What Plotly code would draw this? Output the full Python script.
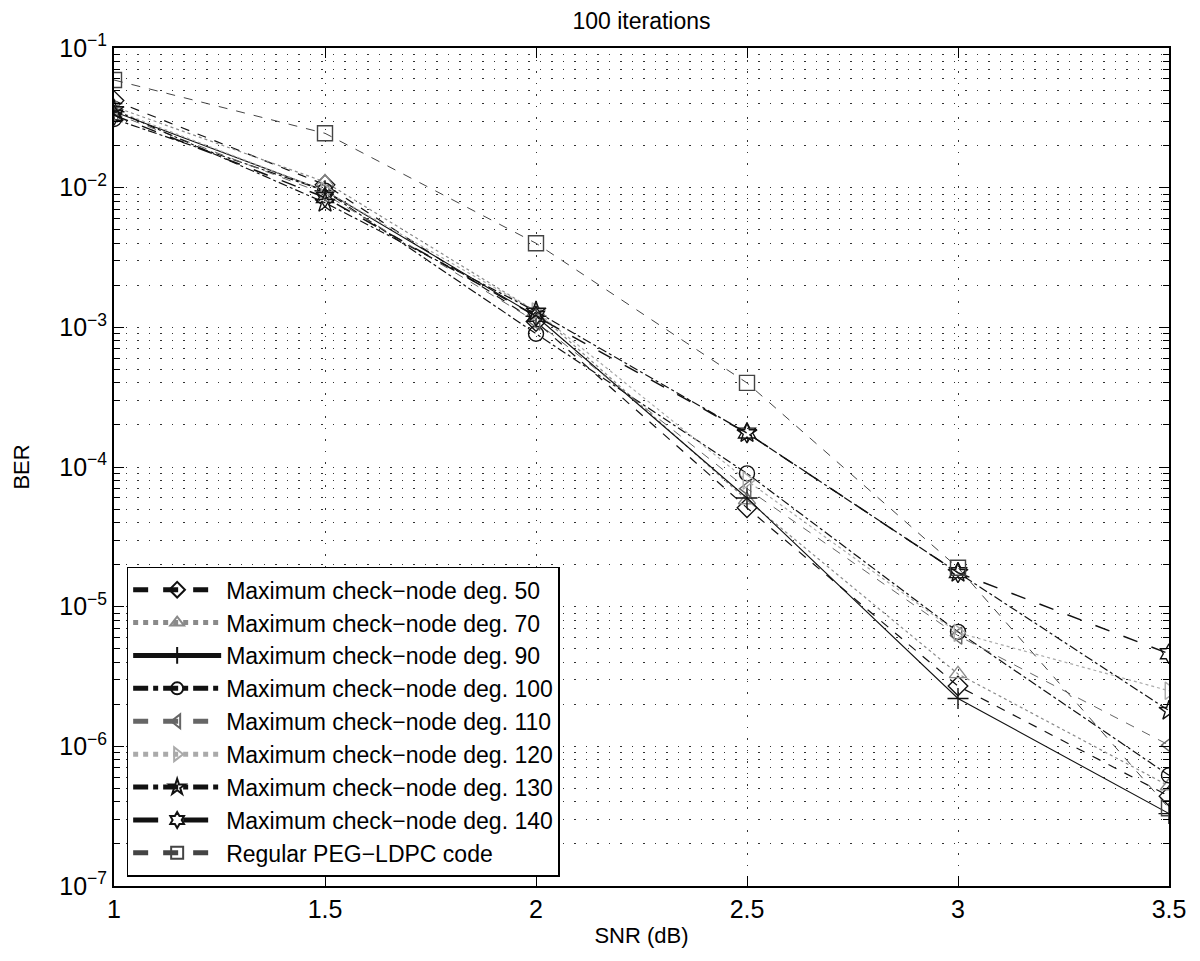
import plotly.graph_objects as go

snr = [1, 1.5, 2, 2.5, 3, 3.5]
deg50 = [0.042, 0.0105, 0.0011, 5.1e-5, 2.7e-6, 4.4e-7]
deg70 = [0.038, 0.011, 0.0013, 5.8e-5, 3.3e-6, 5.2e-7]
deg90 = [0.035, 0.0095, 0.0012, 6.0e-5, 2.2e-6, 3.3e-7]
deg100 = [0.031, 0.0095, 0.0009, 9.0e-5, 6.6e-6, 6.2e-7]
deg110 = [0.034, 0.009, 0.0011, 7.0e-5, 6.2e-6, 1.02e-6]
deg120 = [0.036, 0.0095, 0.0013, 8.0e-5, 6.5e-6, 2.5e-6]
deg130 = [0.036, 0.0078, 0.0013, 1.75e-4, 1.75e-5, 1.8e-6]
deg140 = [0.033, 0.0085, 0.0012, 1.75e-4, 1.75e-5, 4.6e-6]
peg = [0.059, 0.0245, 0.004, 4.0e-4, 1.9e-5, 3.6e-7]

names = ["Maximum check\u2212node deg. 50", "Maximum check\u2212node deg. 70",
         "Maximum check\u2212node deg. 90", "Maximum check\u2212node deg. 100",
         "Maximum check\u2212node deg. 110", "Maximum check\u2212node deg. 120",
         "Maximum check\u2212node deg. 130", "Maximum check\u2212node deg. 140",
         "Regular PEG\u2212LDPC code"]
series = [deg50, deg70, deg90, deg100, deg110, deg120, deg130, deg140, peg]
colors = ["#111111", "#8a8a8a", "#111111", "#111111", "#666666", "#aaaaaa", "#111111", "#111111", "#444444"]
dashes = ["dash", "dot", "solid", "dashdot", "dash", "dot", "dashdot", "longdash", "dash"]
widths = [1.2, 1.2, 1.1, 1.2, 1.0, 1.2, 1.2, 1.5, 1.0]
symbols = ["diamond-open", "triangle-up-open", "cross-thin-open", "circle-open",
           "triangle-left-open", "triangle-right-open", "star-open", "hexagram-open", "square-open"]

fig = go.Figure()
for nm, ys, c, d, w, s in zip(names, series, colors, dashes, widths, symbols):
    fig.add_trace(go.Scatter(
        x=snr, y=ys, name=nm, mode="lines+markers",
        line=dict(color=c, dash=d, width=w),
        marker=dict(symbol=s, size=15, color=c, line=dict(color=c, width=1.4)),
    ))

ytv = [1e-7, 1e-6, 1e-5, 1e-4, 1e-3, 1e-2, 1e-1]
ytt = ["10<sup>\u22127</sup>", "10<sup>\u22126</sup>", "10<sup>\u22125</sup>", "10<sup>\u22124</sup>",
       "10<sup>\u22123</sup>", "10<sup>\u22122</sup>", "10<sup>\u22121</sup>"]
xtv = [1, 1.5, 2, 2.5, 3, 3.5]
xtt = ["1", "1.5", "2", "2.5", "3", "3.5"]

grid_dash = "1.5px,10px"
grid_col = "#333333"

fig.update_layout(
    width=1200, height=961,
    paper_bgcolor="white", plot_bgcolor="white",
    margin=dict(l=102, r=39, t=40, b=83),
    font=dict(family="Liberation Sans, Arial, sans-serif", size=22, color="black"),
    title=dict(text="100 iterations", x=0.5, xref="paper", xanchor="center",
               y=0.9865, yref="container", yanchor="middle",
               font=dict(size=23)),
    showlegend=True,
    legend=dict(x=0.012, y=0.381, xanchor="left", yanchor="top",
                bgcolor="white", bordercolor="black", borderwidth=1.5,
                font=dict(size=23), itemwidth=88, tracegroupgap=0,
                itemsizing="constant"),
)
fig.update_xaxes(
    range=[1, 3.5], tickvals=xtv, ticktext=xtt,
    showline=True, linecolor="black", linewidth=2, mirror="allticks",
    ticks="inside", ticklen=10, tickcolor="black",
    showgrid=True, gridcolor=grid_col, griddash=grid_dash, gridwidth=1,
    zeroline=False, tickfont=dict(size=25),
    title=dict(text="SNR (dB)", font=dict(size=22), standoff=6),
)
fig.update_yaxes(
    type="log", range=[-7, -1], tickvals=ytv, ticktext=ytt,
    showline=True, linecolor="black", linewidth=2, mirror="allticks",
    ticks="inside", ticklen=10, tickcolor="black",
    showgrid=True, gridcolor=grid_col, griddash=grid_dash, gridwidth=1,
    minor=dict(tickmode="linear", dtick="D1", ticks="inside", ticklen=6, tickcolor="black",
               showgrid=True, gridcolor=grid_col, griddash=grid_dash, gridwidth=1),
    zeroline=False, tickfont=dict(size=25),
    title=dict(text="BER", font=dict(size=22), standoff=24),
)

fig.write_html("out.html")
